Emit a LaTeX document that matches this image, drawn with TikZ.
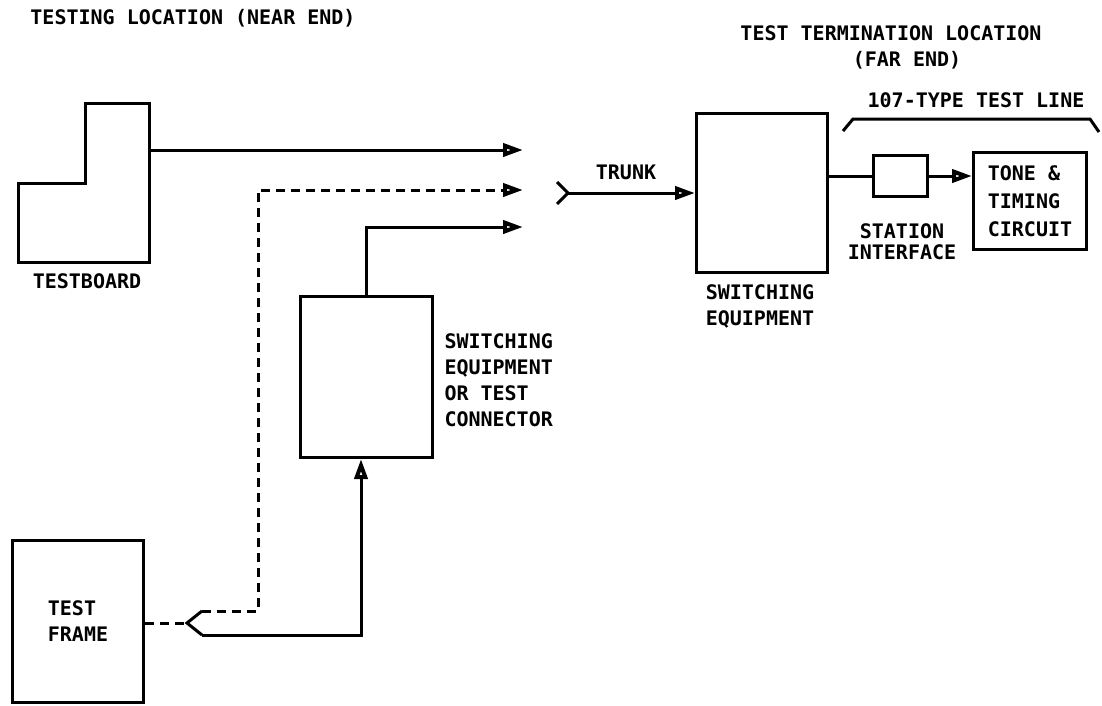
\documentclass[tikz,border=0pt]{standalone}
\usepackage{fontspec}
\newfontfamily\lettering{DejaVu Sans Mono}
\usepackage{tikz}
\usetikzlibrary{arrows.meta}
\usetikzlibrary{positioning}

\begin{document}
\begin{tikzpicture}[x=1pt,y=-1pt,line width=3pt,
    box/.style={draw,rectangle,inner sep=0pt},
    txt/.style={font=\lettering\bfseries\fontsize{20}{26}\selectfont,inner sep=0pt},
    arr/.style={-{Triangle[open,length=20pt,width=13pt,line width=4pt]}},
    dashline/.style={dash pattern=on 9pt off 6pt}]
    \useasboundingbox (0,0) rectangle (1102,705);

    % titles
    \node[txt] (nearttl) at (193,18) {TESTING LOCATION (NEAR END)};
    \node[txt] (farttl) at (891,33) {TEST TERMINATION LOCATION};
    \node[txt] (farend) at (907,60) {(FAR END)};

    % testboard
    \draw[line join=miter] (18,183) -- (85,183) -- (85,103) -- (149,103) -- (149,262) -- (18,262) -- cycle;
    \coordinate (tbout) at (149,150);
    \node[txt] (tblabel) at (87,281) {TESTBOARD};

    % leads towards the trunk
    \coordinate (lead1) at (523,150);
    \coordinate (lead2) at (523,190);
    \coordinate (lead3) at (523,227);
    \draw[arr] (tbout) -- (lead1);

    % test frame
    \node[box,txt,align=left,minimum width=131pt,minimum height=162pt] (frame) at (78,621) {TEST\\FRAME};
    \coordinate (fjtip) at (187,623);
    \coordinate (fjup) at (202,611);
    \coordinate (fjlo) at (202,635);
    \draw (fjup) -- (fjtip) -- (fjlo);
    \draw[dashline] (frame.east |- fjtip) -- (fjtip);
    \draw[arr,dashline] (fjup) -- ++(56,0) |- (lead2);

    % switching equipment or test connector
    \node[box,minimum width=132pt,minimum height=161pt] (nsw) at (366,377) {};
    \node[txt,align=left,anchor=west] (nswlabel) at (443,380) {SWITCHING\\EQUIPMENT\\OR TEST\\CONNECTOR};
    \draw[arr] (fjlo) -| ([xshift=-5pt]nsw.south);
    \draw[arr] (nsw.north) |- (lead3);

    % trunk
    \coordinate (tjtip) at (568,193);
    \coordinate (tjup) at (557,182);
    \coordinate (tjlo) at (557,204);
    \draw (tjup) -- (tjtip) -- (tjlo);
    \node[txt] (trunk) at (626,172) {TRUNK};

    % far end
    \node[box,minimum width=131pt,minimum height=159pt] (fsw) at (762,193) {};
    \node[txt,align=center] (fswlabel) at (760,306) {SWITCHING\\EQUIPMENT};
    \draw[arr] (tjtip) -- (tjtip -| fsw.west);

    \node[box,minimum width=54pt,minimum height=41pt] (si) at (900,176) {};
    \node[txt,align=center,font=\lettering\bfseries\fontsize{20}{21}\selectfont] (silabel) at (902,242) {STATION\\INTERFACE};
    \node[box,txt,align=left,font=\lettering\bfseries\fontsize{20}{28}\selectfont,minimum width=113pt,minimum height=97pt] (tone) at (1030,201) {TONE \&\\TIMING\\CIRCUIT};
    \draw (si.west -| fsw.east) -- (si.west);
    \draw[arr] (si.east) -- (si.east -| tone.west);

    % 107-type test line
    \draw (843,131) -- (853,119) -- (1090,119) -- (1099,132);
    \node[txt] (tlline) at (976,100) {107-TYPE TEST LINE};
\end{tikzpicture}
\end{document}
